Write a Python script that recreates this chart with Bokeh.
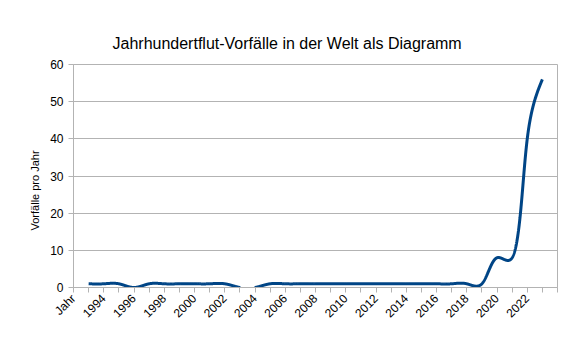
import numpy as np
from bokeh.plotting import figure
from bokeh.models import FixedTicker, Range1d, Title, ColumnDataSource
from bokeh.embed import file_html
from bokeh.resources import INLINE

# ---- data ----
categories = ["Jahr"] + [str(y) for y in range(1993, 2024)] + [""]
years = list(range(1993, 2024))
values = [1, 1, 1, 0, 1, 1, 1, 1, 1, 1, 0, 0, 1, 1, 1, 1, 1, 1, 1, 1, 1,
          1, 1, 1, 1, 1, 1, 8, 8, 40, 56]
y_ticks = [0, 10, 20, 30, 40, 50, 60]

FONT = "Liberation Sans"
LINE = "#004586"
GRID = "#b3b3b3"

W, H = 575, 363
B_LEFT, B_RIGHT, B_TOP, B_BOTTOM = 73, 18, 64, 76

xs = np.array([categories.index(str(y)) for y in years], dtype=float)
ys = np.array(values, dtype=float)

# smooth-line style: parametric natural cubic spline in screen space
sxf = (W - B_LEFT - B_RIGHT) / (len(categories) - 1)
syf = (H - B_TOP - B_BOTTOM) / 60.0
X = xs * sxf
Y = ys * syf
t = np.concatenate([[0], np.cumsum(np.hypot(np.diff(X), np.diff(Y)) ** 0.3)])


def natural_spline(tk, vk, tt):
    n = len(tk)
    h = np.diff(tk)
    A = np.zeros((n, n))
    b = np.zeros(n)
    A[0, 0] = 1
    A[-1, -1] = 1
    for i in range(1, n - 1):
        A[i, i - 1] = h[i - 1]
        A[i, i] = 2 * (h[i - 1] + h[i])
        A[i, i + 1] = h[i]
        b[i] = 6 * ((vk[i + 1] - vk[i]) / h[i] - (vk[i] - vk[i - 1]) / h[i - 1])
    M = np.linalg.solve(A, b)
    i = np.clip(np.searchsorted(tk, tt, side="right") - 1, 0, n - 2)
    hi = h[i]
    a = (tk[i + 1] - tt) / hi
    c = (tt - tk[i]) / hi
    return (a * vk[i] + c * vk[i + 1]
            + ((a ** 3 - a) * M[i] + (c ** 3 - c) * M[i + 1]) * hi * hi / 6)


tt = np.linspace(0, t[-1], 4000)
sx = natural_spline(t, X, tt) / sxf
sy = natural_spline(t, Y, tt) / syf
sy[sy < -0.02] = np.nan  # parts below the plot floor are clipped away

p = figure(width=W, height=H, output_backend="svg", toolbar_location=None,
           x_range=Range1d(0, len(categories) - 1), y_range=Range1d(0, 60),
           min_border_left=B_LEFT, min_border_right=B_RIGHT, min_border_top=B_TOP,
           min_border_bottom=B_BOTTOM)

p.title = Title(text="Jahrhundertflut-Vorfälle in der Welt als Diagramm",
                text_font=FONT, text_font_size="16px", text_font_style="normal",
                text_color="#000000", align="left", offset=39, standoff=25)

p.add_layout(Title(text="Vorfälle pro Jahr", text_font=FONT, text_font_size="11px",
                   text_font_style="normal", text_color="#000000", align="left",
                   offset=57, standoff=13), "left")

src = ColumnDataSource(dict(x=sx, y=sy))
p.line("x", "y", source=src, line_color=LINE, line_width=3)

idx = list(range(len(categories)))
p.xaxis.ticker = FixedTicker(ticks=[i for i in idx if i % 2 == 0],
                             minor_ticks=[i for i in idx if i % 2 == 1])
p.xaxis.major_label_overrides = {i: categories[i] for i in idx if i % 2 == 0}
p.xaxis.major_label_orientation = np.pi / 4
p.yaxis.ticker = FixedTicker(ticks=y_ticks)

for ax in (p.xaxis, p.yaxis):
    ax.axis_line_color = GRID
    ax.major_tick_line_color = GRID
    ax.minor_tick_line_color = GRID
    ax.major_tick_out = 5
    ax.major_tick_in = 0
    ax.minor_tick_out = 5
    ax.minor_tick_in = 0
    ax.major_label_text_font = FONT
    ax.major_label_text_font_size = "12px"
    ax.major_label_text_color = "#000000"
p.yaxis.minor_tick_line_color = None
p.xaxis.major_label_standoff = 4
p.yaxis.major_label_standoff = 5

p.xgrid.grid_line_color = None
p.ygrid.grid_line_color = GRID
p.ygrid.ticker = FixedTicker(ticks=y_ticks)
p.outline_line_color = GRID
p.background_fill_color = "white"
p.border_fill_color = "white"

open("out.html", "w").write(file_html(p, INLINE))
